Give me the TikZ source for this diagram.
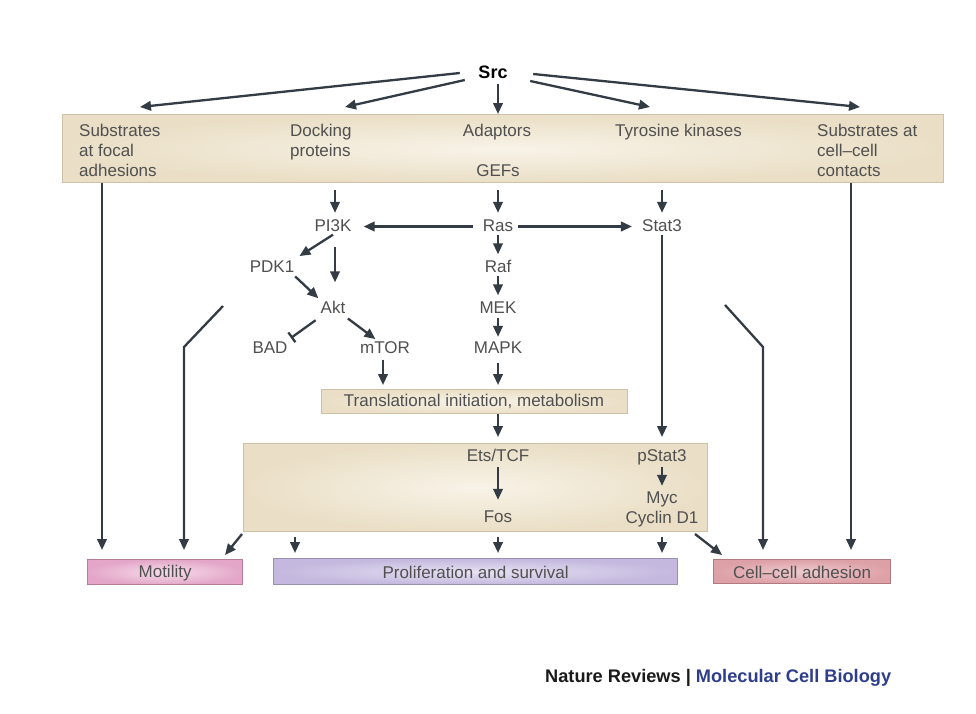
\documentclass[tikz,border=0pt]{standalone}
\usepackage{fontspec}
\setmainfont{Liberation Sans}
\usetikzlibrary{arrows.meta,calc}
\definecolor{txtc}{HTML}{505050}
\definecolor{arrc}{HTML}{333B45}
\definecolor{beigeD}{HTML}{EADFC6}
\definecolor{beigeL}{HTML}{F8F3E8}
\definecolor{beigeB}{HTML}{CDC1A6}
\definecolor{pinkD}{HTML}{E3A6C8}
\definecolor{pinkL}{HTML}{F6DDEB}
\definecolor{pinkB}{HTML}{B27C9B}
\definecolor{lavD}{HTML}{C4B8DE}
\definecolor{lavL}{HTML}{E6E1F2}
\definecolor{lavB}{HTML}{9A90B6}
\definecolor{roseD}{HTML}{DDA0A7}
\definecolor{roseL}{HTML}{EDCBCE}
\definecolor{roseB}{HTML}{B07A80}
\definecolor{natblue}{HTML}{2E3E8C}
\begin{document}
\begin{tikzpicture}[x=1pt,y=-1pt,
  fs/.style={font=\fontsize{17}{20}\selectfont},
  tx/.style={fs,text=txtc,inner sep=0pt,text height=12.5pt,text depth=3.5pt,anchor=base},
  ml/.style={fs,text=txtc,inner sep=0pt,align=left,anchor=north west},
  arr/.style={draw=arrc,line width=2.3pt,-{Triangle[length=11pt,width=9.5pt]}},
  bar/.style={draw=arrc,line width=2.3pt,-{Bar[width=12pt,line width=2.3pt]}},
  beigebox/.style={draw=beigeB,line width=1.2pt,inner color=beigeL,outer color=beigeD,anchor=north west},
  outbox/.style={line width=1.2pt,anchor=north west,fs,text=txtc}
]
\useasboundingbox[fill=white] (0,0) rectangle (976,713);

% boxes
\node[beigebox,minimum width=881pt,minimum height=68pt] (top) at (62,114) {};
\node[beigebox,minimum width=306pt,minimum height=24pt] (trans) at (321,389) {};
\node[fs,text=txtc,inner sep=0pt] (transtxt) at (474,401) {Translational initiation, metabolism};
\node[beigebox,minimum width=464pt,minimum height=88pt] (big) at (243,443) {};
\node[outbox,draw=pinkB,inner color=pinkL,outer color=pinkD,minimum width=155pt,minimum height=25pt] (mot) at (87,559) {};
\node[fs,text=txtc,inner sep=0pt] (mottxt) at ($(mot.center)+(0,1)$) {Motility};
\node[outbox,draw=lavB,inner color=lavL,outer color=lavD,minimum width=404pt,minimum height=26pt] (prolif) at (273,558) {};
\node[fs,text=txtc,inner sep=0pt] (proliftxt) at ($(prolif.center)+(0,1)$) {Proliferation and survival};
\node[outbox,draw=roseB,inner color=roseL,outer color=roseD,minimum width=177pt,minimum height=24pt] (cell) at (713,559) {};
\node[fs,text=txtc,inner sep=0pt] (celltxt) at ($(cell.center)+(0,1)$) {Cell–cell adhesion};

% top texts
\node[font=\fontsize{18}{20}\selectfont\bfseries,text=black,inner sep=0pt,text height=13pt,text depth=0pt,anchor=base] (src) at (493,78) {Src};
\node[ml] (sub1) at (79,123.5) {Substrates\\at focal\\adhesions};
\node[ml] (dock) at (290,123.5) {Docking\\proteins};
\node[tx] (adap) at (497,136) {Adaptors};
\node[tx] (gefs) at (498,176) {GEFs};
\node[ml] (tyr) at (615,123.5) {Tyrosine kinases};
\node[ml] (sub2) at (817,123.5) {Substrates at\\cell–cell\\contacts};

% pathway texts
\node[tx] (pi3k) at (333,231) {PI3K};
\node[tx] (ras) at (498,231) {Ras};
\node[tx] (stat3) at (662,231) {Stat3};
\node[tx] (pdk1) at (272,272) {PDK1};
\node[tx] (raf) at (498,272) {Raf};
\node[tx] (akt) at (333,313) {Akt};
\node[tx] (mek) at (498,313) {MEK};
\node[tx] (bad) at (270,353) {BAD};
\node[tx] (mtor) at (385,353) {mTOR};
\node[tx] (mapk) at (498,353) {MAPK};
\node[tx] (ets) at (498,461) {Ets/TCF};
\node[tx] (fos) at (498,522) {Fos};
\node[tx] (pstat3) at (662,461) {pStat3};
\node[tx] (myc) at (662,503) {Myc};
\node[tx] (cyc) at (662,523) {Cyclin D1};

% footer
\node[font=\fontsize{18.2}{20}\selectfont\bfseries,inner sep=0pt,anchor=base west] (foot) at (545,682) {\textcolor[HTML]{1A1A1A}{Nature Reviews |} \textcolor{natblue}{Molecular Cell Biology}};

% coordinates
\coordinate (e1) at (140,107);
\coordinate (e2) at (345,107);
\coordinate (e3) at (650,107);
\coordinate (e4) at (860,107);
\coordinate (colA) at (102,0);
\coordinate (colD) at (851,0);
\coordinate (colP) at (295,0);
\coordinate (lb1) at (223,306);
\coordinate (lb2) at (184,347);
\coordinate (rb1) at (725,305);
\coordinate (rb2) at (763,347);
\coordinate (m1) at (242,534);
\coordinate (m2) at (225,555);
\coordinate (c1) at (695,534);
\coordinate (c2) at (722,555);

% Src fan
\draw[arr] ($(src.west)+(-18.5,1.5)$) -- (e1);
\draw[arr] ($(src.west)+(-13.5,8.5)$) -- (e2);
\draw[arr] ($(src.east)+(22.5,9.5)$) -- (e3);
\draw[arr] ($(src.east)+(25.5,2.5)$) -- (e4);
\draw[arr,shorten <=6pt] ([xshift=5pt]src.south) -- ([xshift=5pt]src.south |- top.north);

% from top box
\draw[arr,shorten >=9pt] (top.south -| colA) -- (mot.north -| colA);
\draw[arr,shorten >=9pt] (top.south -| colD) -- (cell.north -| colD);
\draw[arr,shorten <=7pt,shorten >=5.5pt] ([xshift=2pt]pi3k.north |- top.south) -- ([xshift=2pt]pi3k.north);
\draw[arr,shorten <=7pt,shorten >=5.5pt] (ras.north |- top.south) -- (ras.north);
\draw[arr,shorten <=7pt,shorten >=5.5pt] (stat3.north |- top.south) -- (stat3.north);

% Ras branch
\draw[arr,shorten <=10pt,shorten >=12pt] (ras.west) -- (pi3k.east);
\draw[arr,shorten <=5pt,shorten >=10pt] (ras.east) -- (stat3.west);
\draw[arr,shorten >=5pt] (ras.south) -- (raf.north);
\draw[arr,shorten >=5pt] (raf.south) -- (mek.north);
\draw[arr,shorten <=1.5pt,shorten >=3.5pt] (mek.south) -- (mapk.north);
\draw[arr,shorten <=6pt,shorten >=4pt] (mapk.south) -- (mapk.south |- trans.north);

% PI3K branch
\draw[arr,shorten >=6pt] (pi3k.south) -- (pdk1.north east);
\draw[arr,shorten <=12pt,shorten >=18pt] ([xshift=2pt]pi3k.south) -- ([xshift=2pt]akt.north);
\draw[arr,shorten <=1pt,shorten >=3pt] (pdk1.south east) -- (akt.north west);
\draw[bar,shorten <=6pt,shorten >=4pt] (akt.south west) -- (bad.north east);
\draw[arr,shorten <=3pt,shorten >=2pt] (akt.south east) -- ([xshift=-8pt]mtor.north);
\draw[arr,shorten <=3pt,shorten >=4pt] ([xshift=-2pt]mtor.south) -- ([xshift=-2pt]mtor.south |- trans.north);

% to big box
\draw[arr,shorten >=6pt] (trans.south -| ras) -- (big.north -| ras);
\draw[arr,shorten <=0.5pt,shorten >=6pt] (stat3.south) -- (stat3.south |- big.north);
\draw[arr,shorten <=2.5pt,shorten >=9.5pt] (ets.south) -- (fos.north);
\draw[arr,shorten <=2.5pt,shorten >=4.5pt] (pstat3.south) -- (myc.north);

% bent lines
\draw[arr,shorten >=9pt] (lb1) -- (lb2) -- (mot.north -| lb2);
\draw[arr,shorten >=9pt] (rb1) -- (rb2) -- (cell.north -| rb2);

% big box to outputs
\draw[arr] (m1) -- (m2);
\draw[arr,shorten <=5pt,shorten >=5pt] (big.south -| colP) -- (prolif.north -| colP);
\draw[arr,shorten <=5pt,shorten >=5pt] (big.south -| ras) -- (prolif.north -| ras);
\draw[arr,shorten <=5pt,shorten >=5pt] (big.south -| stat3) -- (prolif.north -| stat3);
\draw[arr] (c1) -- (c2);
\end{tikzpicture}
\end{document}
